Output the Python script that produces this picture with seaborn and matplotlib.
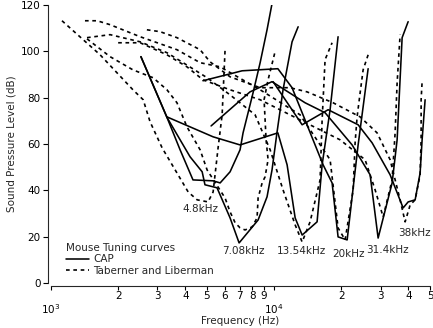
import matplotlib
matplotlib.use("Agg")
import matplotlib.pyplot as plt
import matplotlib.ticker as mticker
from matplotlib.lines import Line2D
import seaborn as sns
import pandas as pd

# ---- data (frequency in kHz, level in dB SPL) ----
cap_48_f = [2.53, 3.31, 3.79, 4.33, 5.33, 5.73, 6.35, 7.04, 7.26, 8.05, 8.66, 9.30, 9.79]
cap_48_db = [97.7, 71.5, 57.5, 44.5, 44.1, 43.2, 48.0, 57.5, 64.8, 82.1, 95.1, 109.3, 120.6]

cap_708_f = [2.53, 3.31, 4.20, 4.76, 4.90, 5.55, 6.35, 6.97, 8.48, 9.30, 9.79, 10.3, 10.97, 12.04, 12.82]
cap_708_db = [97.7, 71.5, 54.5, 48.0, 42.4, 41.1, 28.1, 17.3, 27.2, 37.2, 48.8, 64.8, 83.4, 104.1, 110.6]

cap_1354_f = [3.31, 5.33, 7.04, 10.4, 11.44, 12.43, 13.36, 15.59, 16.42, 17.83, 19.36]
cap_1354_db = [71.7, 63.1, 59.6, 64.8, 51.0, 28.1, 20.7, 26.4, 51.0, 74.8, 106.3]

cap_20_f = [4.80, 7.19, 10.4, 12.04, 16.59, 18.20, 19.36, 21.26, 23.81, 26.40]
cap_20_db = [87.3, 91.6, 92.5, 84.3, 51.0, 43.2, 19.9, 18.6, 59.6, 92.5]

cap_314_f = [5.22, 7.80, 9.79, 13.77, 16.93, 22.38, 26.95, 29.27, 33.82, 35.61, 37.50, 39.90]
cap_314_db = [67.8, 82.5, 86.9, 77.8, 73.5, 59.6, 46.7, 19.4, 43.2, 61.8, 105.9, 112.8]

cap_38_f = [9.90, 13.36, 17.47, 23.81, 27.51, 33.13, 37.88, 39.90, 42.89, 45.15, 46.09, 47.54]
cap_38_db = [86.9, 68.3, 74.8, 68.3, 60.5, 46.7, 32.4, 35.0, 35.9, 47.5, 61.8, 79.1]

tl_48_f = [1.12, 1.66, 2.33, 2.59, 2.78, 3.15, 3.67, 4.12, 4.52, 5.06, 5.33, 5.61, 5.85, 6.03]
tl_48_db = [113.2, 98.5, 83.4, 79.1, 69.6, 58.3, 47.5, 39.3, 35.9, 35.0, 39.3, 58.3, 72.6, 100.7]

tl_708_f = [1.45, 1.84, 2.33, 2.87, 3.31, 3.67, 4.07, 4.66, 5.01, 6.03, 6.35, 6.69, 7.04, 7.41,
            7.97, 8.39, 8.48, 8.84, 9.11, 9.40, 9.21, 9.02, 9.40, 10.1]
tl_708_db = [105.4, 97.7, 92.0, 88.6, 83.4, 77.8, 67.4, 57.5, 48.8, 36.7, 30.7, 26.0, 23.8, 22.9,
             24.2, 28.1, 36.7, 43.2, 45.8, 53.2, 61.8, 79.1, 87.7, 99.8]

tl_1354_f = [1.45, 1.84, 2.51, 3.31, 3.91, 5.01, 6.35, 8.22, 9.60, 10.97, 12.43, 13.36, 14.50,
             16.08, 16.42, 16.93, 18.20]
tl_1354_db = [105.9, 107.2, 104.1, 99.4, 95.1, 88.6, 81.2, 72.6, 57.5, 40.2, 25.1, 17.7, 26.4,
              44.5, 70.4, 96.4, 103.7]

tl_20_f = [1.42, 1.61, 1.84, 2.51, 3.67, 4.66, 5.73, 8.66, 13.08, 17.83, 19.36, 20.82, 22.62,
           23.08, 23.56, 24.31, 25.07, 26.40]
tl_20_db = [113.2, 113.2, 111.5, 106.3, 100.7, 95.1, 93.3, 83.4, 72.6, 53.2, 23.8, 18.6, 40.2,
            60.5, 71.7, 82.1, 92.0, 98.5]

tl_314_f = [2.00, 2.51, 3.31, 4.07, 4.80, 6.35, 8.66, 13.08, 19.77, 25.59, 28.38, 30.83, 33.82,
            34.88, 35.61, 36.73]
tl_314_db = [103.7, 103.7, 98.5, 93.3, 87.7, 83.4, 79.1, 70.4, 61.8, 53.2, 40.2, 28.5, 44.5,
             64.8, 86.4, 107.2]

tl_38_f = [2.69, 3.08, 3.67, 4.66, 5.16, 6.35, 8.66, 11.79, 14.06, 18.39, 24.31, 28.96, 33.13,
           36.73, 38.68, 40.74, 42.89, 45.15, 45.62, 45.62, 46.09]
tl_38_db = [109.3, 108.5, 105.9, 100.7, 95.5, 89.0, 84.3, 84.3, 82.5, 77.8, 71.7, 64.8, 53.2,
            35.9, 26.4, 33.7, 35.9, 46.7, 61.8, 79.1, 86.9]

cf_labels = ["4.8kHz", "7.08kHz", "13.54kHz", "20kHz", "31.4kHz", "38kHz"]
cf_label_f = [4.66, 7.26, 13.2, 21.5, 32.4, 42.4]
cf_label_db = [32.0, 13.8, 13.8, 12.5, 14.3, 21.6]

legend_title = "Mouse Tuning curves"
legend_labels = ["CAP", "Taberner and Liberman"]

cap_curves = [(cap_48_f, cap_48_db), (cap_708_f, cap_708_db), (cap_1354_f, cap_1354_db),
              (cap_20_f, cap_20_db), (cap_314_f, cap_314_db), (cap_38_f, cap_38_db)]
tl_curves = [(tl_48_f, tl_48_db), (tl_708_f, tl_708_db), (tl_1354_f, tl_1354_db),
             (tl_20_f, tl_20_db), (tl_314_f, tl_314_db), (tl_38_f, tl_38_db)]

rows = []
for src, curves in (("CAP", cap_curves), ("TL", tl_curves)):
    for i, (fs, dbs) in enumerate(curves):
        for j, (f, d) in enumerate(zip(fs, dbs)):
            rows.append({"src": src, "curve": f"{src}{i}", "order": j, "Hz": f * 1000.0, "dB": d})
df = pd.DataFrame(rows)

sns.set_style("ticks")
plt.rcParams["font.family"] = ["DejaVu Sans"]

fig = plt.figure(figsize=(4.33, 3.28), dpi=100)
ax = fig.add_axes([51 / 433, 1 - 283 / 328, 379 / 433, 278 / 328])

DASH = (0, (2.2, 2.2))
for name, g in df.groupby("curve", sort=False):
    src = g["src"].iloc[0]
    ls = "-" if src == "CAP" else DASH
    lw = 1.15 if src == "CAP" else 1.2
    sns.lineplot(data=g, x="Hz", y="dB", sort=False, estimator=None, color="black",
                 linewidth=lw, linestyle=ls, ax=ax, legend=False)

ax.set_xscale("log")
ax.set_xlim(1000, 50000)
ax.set_ylim(0, 120)
ax.set_yticks([0, 20, 40, 60, 80, 100, 120])
ax.xaxis.set_major_locator(mticker.LogLocator(base=10, numticks=10))
ax.xaxis.set_major_formatter(mticker.LogFormatterSciNotation())
ax.xaxis.set_minor_locator(mticker.LogLocator(base=10, subs=range(2, 10), numticks=20))


def minor_fmt(v, pos):
    s = f"{v:.0e}"
    return s[0]


ax.xaxis.set_minor_formatter(mticker.FuncFormatter(minor_fmt))
ax.tick_params(axis="both", which="both", direction="out", colors="black", labelsize=7.5,
               width=0.8)
ax.tick_params(axis="x", which="major", length=3, pad=9)
ax.tick_params(axis="x", which="minor", length=3, pad=0.5)
ax.tick_params(axis="y", which="major", length=3.5, pad=2)

for s in ("top", "right"):
    ax.spines[s].set_visible(False)
ax.spines["left"].set_position(("outward", 2))
ax.spines["bottom"].set_position(("outward", 2))
ax.spines["left"].set_linewidth(0.8)
ax.spines["bottom"].set_linewidth(0.8)

ax.set_xlabel("Frequency (Hz)", fontsize=7.5, labelpad=0)
ax.set_ylabel("Sound Pressure Level (dB)", fontsize=7.5, labelpad=3)

for lab, f, d in zip(cf_labels, cf_label_f, cf_label_db):
    ax.text(f * 1000.0, d, lab, ha="center", va="center", fontsize=7.5)

handles = [Line2D([0], [0], color="black", lw=1.15, ls="-"),
           Line2D([0], [0], color="black", lw=1.2, ls=DASH)]
leg = ax.legend(handles, legend_labels, title=legend_title, loc="lower left",
                bbox_to_anchor=(0.02, 0.0), frameon=False, fontsize=7.5, title_fontsize=7.5,
                handlelength=2.2, handletextpad=0.4, labelspacing=0.15, borderpad=0.2)
leg._legend_box.align = "left"

fig.savefig("out.png", dpi=100)
